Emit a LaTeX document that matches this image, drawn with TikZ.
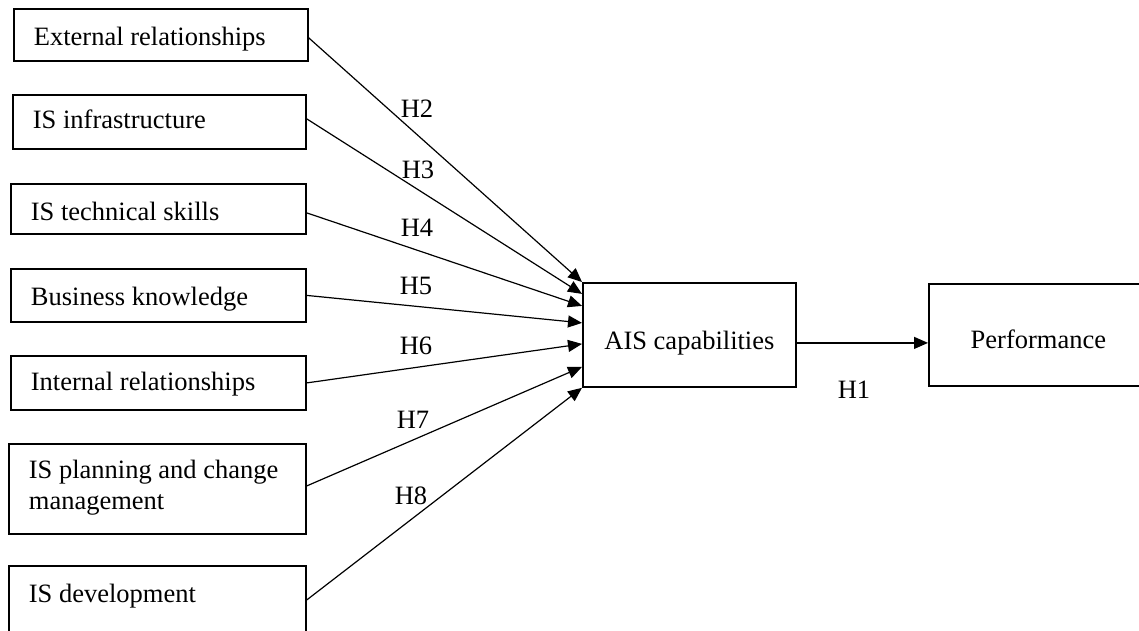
\documentclass[tikz,border=0pt]{standalone}
\usepackage{fontspec}
\setmainfont{Liberation Serif}
\usetikzlibrary{arrows.meta}
\begin{document}
\begin{tikzpicture}[x=1pt,y=-1pt,
  txt/.style={font=\fontsize{26.5pt}{31pt}\selectfont},
  box/.style={txt, draw, line width=1.8pt, anchor=north west, inner xsep=20pt, inner ysep=0pt, align=flush left},
  cbox/.style={box, align=flush center},
  conn/.style={line width=1.2pt, -{Triangle[length=14pt,width=12pt]}},
  hlab/.style={txt, inner sep=0pt}]
\clip (0,0) rectangle (1139,630);
\fill[white] (0,0) rectangle (1139,630);
% left boxes
\node[box, text width=254pt, text height=37pt, text depth=15pt] (er) at (13,8) {External relationships};
\node[box, text width=253pt, text height=34pt, text depth=20pt] (infra) at (12,94) {IS infrastructure};
\node[box, text width=255pt, text height=37pt, text depth=13pt] (tech) at (10,183) {IS technical skills};
\node[box, text width=255pt, text height=37pt, text depth=16pt] (bk) at (10,268) {Business knowledge};
\node[box, text width=255pt, text height=35pt, text depth=19pt] (ir) at (10,355) {Internal relationships};
\node[box, text width=257pt, text height=35pt, text depth=55pt] (isp) at (8,443) {IS planning and change\\management};
\node[box, text width=257pt, text height=37pt, text depth=31pt] (isd) at (8,565) {IS development};
% right boxes
\node[cbox, text width=173pt, text height=67pt, text depth=37pt] (ais) at (582,282) {AIS capabilities};
\node[cbox, text width=179pt, text height=65pt, text depth=37pt] (perf) at (928,283) {Performance};
% connectors
\draw[conn] ([yshift=-3pt]er.east) -- (ais.north west);
\draw[conn] ([yshift=3pt]infra.east) -- ([yshift=41pt]ais.west);
\draw[conn] ([yshift=-4pt]tech.east) -- ([yshift=29pt]ais.west);
\draw[conn] (bk.east) -- ([yshift=12pt]ais.west);
\draw[conn] (ir.east) -- ([yshift=-9pt]ais.west);
\draw[conn] ([yshift=3pt]isp.east) -- ([yshift=-32pt]ais.west);
\draw[conn] (isd.east) -- (ais.south west);
\draw[conn] ([yshift=-8pt]ais.east) -- ([yshift=-8pt]perf.west);
% labels
\node[hlab] (h1) at (854,390) {H1};
\node[hlab] (h2) at (417,109) {H2};
\node[hlab] (h3) at (418,170) {H3};
\node[hlab] (h4) at (417,228) {H4};
\node[hlab] (h5) at (416,286) {H5};
\node[hlab] (h6) at (416,346) {H6};
\node[hlab] (h7) at (413,420) {H7};
\node[hlab] (h8) at (411,496) {H8};
\end{tikzpicture}
\end{document}
